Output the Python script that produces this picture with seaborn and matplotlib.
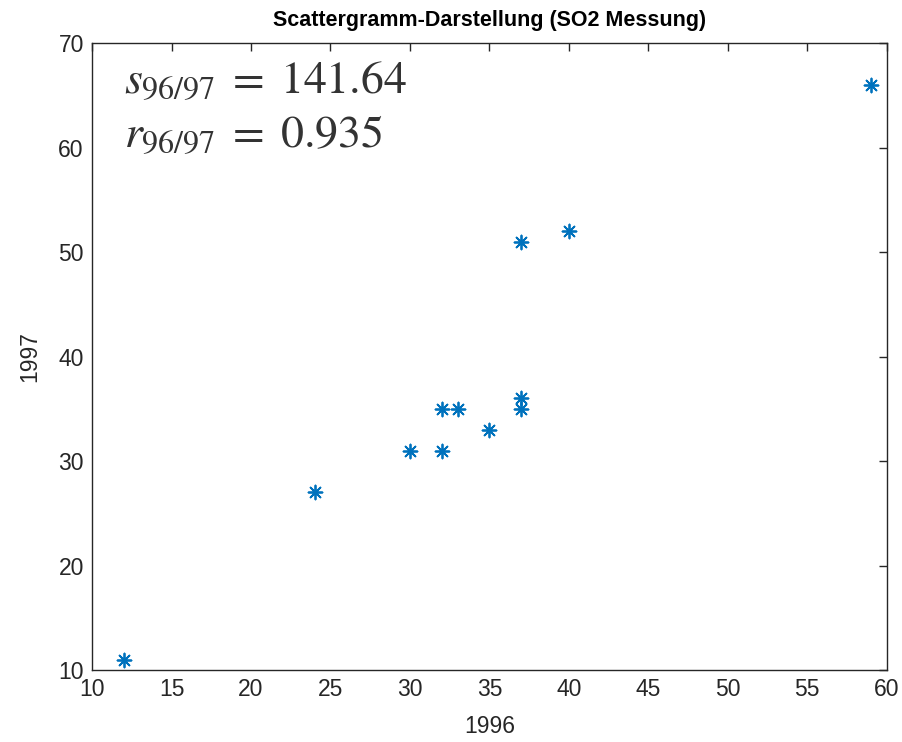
import matplotlib
matplotlib.use("Agg")
import matplotlib.pyplot as plt
import seaborn as sns
import pandas as pd

x_1996 = [12, 24, 30, 32, 32, 33, 35, 37, 37, 37, 40, 59]
y_1997 = [11, 27, 31, 31, 35, 35, 33, 35, 36, 51, 52, 66]
title = "Scattergramm-Darstellung (SO2 Messung)"
xlabel = "1996"
ylabel = "1997"
x_ticks = [10, 15, 20, 25, 30, 35, 40, 45, 50, 55, 60]
y_ticks = [10, 20, 30, 40, 50, 60, 70]

sns.set_theme(style="white")
plt.rcParams['font.family'] = ['Liberation Sans', 'DejaVu Sans']
plt.rcParams['mathtext.fontset'] = 'stix'

fig = plt.figure(figsize=(9.03, 7.42), dpi=100)
ax = fig.add_axes([0.102, 0.097, 0.880, 0.845])

df = pd.DataFrame({"x": x_1996, "y": y_1997})
sns.scatterplot(data=df, x="x", y="y", ax=ax, marker=(8, 2, 0), s=100,
                color="#0072BD", edgecolor="#0072BD", linewidth=1.3)

ax.set_xlim(10, 60)
ax.set_ylim(10, 70)
ax.set_xticks(x_ticks)
ax.set_yticks(y_ticks)
ax.tick_params(direction="in", top=True, right=True, length=6, width=1.0,
               labelsize=16.5, colors="#262626", pad=6)
for sp in ax.spines.values():
    sp.set_color("#262626")
    sp.set_linewidth(1.0)
ax.set_xlabel(xlabel, fontsize=16.5, color="#262626", labelpad=10)
ax.set_ylabel(ylabel, fontsize=16.5, color="#262626", labelpad=12)
ax.set_title(title, fontsize=15.5, fontweight="bold", color="black", pad=12)

ax.text(0.04, 0.975, r"$s_{96/97}\;=\;141.64$", transform=ax.transAxes,
        fontsize=33, color="#333333", va="top", ha="left")
ax.text(0.04, 0.888, r"$r_{96/97}\;=\;0.935$", transform=ax.transAxes,
        fontsize=33, color="#333333", va="top", ha="left")

fig.savefig("out.png", dpi=100)
